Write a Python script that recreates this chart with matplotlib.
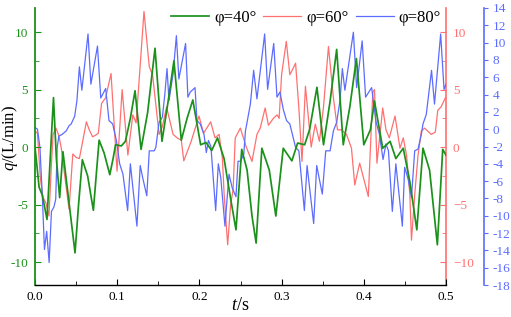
import matplotlib
matplotlib.use("Agg")
import matplotlib.pyplot as plt
from matplotlib.ticker import MultipleLocator, FuncFormatter

plt.rcParams['font.family'] = ['Liberation Serif', 'DejaVu Serif']
plt.rcParams['mathtext.fontset'] = 'custom'
plt.rcParams['mathtext.rm'] = 'Liberation Serif'
plt.rcParams['mathtext.it'] = 'Liberation Serif:italic'
plt.rcParams['axes.unicode_minus'] = False

# (t [s], q [L/min])
phi40 = [(0.000, 0.0), (0.005, -3.5), (0.009, -4.2), (0.0146, -6.3), (0.0185, -1.0),
         (0.0225, 4.3), (0.026, -1.0), (0.030, -4.4), (0.034, -0.4), (0.040, -4.0),
         (0.0487, -9.2), (0.053, -5.0), (0.0576, -1.1), (0.064, -2.5), (0.071, -5.5),
         (0.075, -2.0), (0.078, 0.6), (0.084, -0.5), (0.091, -2.4), (0.095, -1.0),
         (0.098, 0.2), (0.105, 0.1), (0.110, 0.5), (0.116, 2.5), (0.1217, 4.9),
         (0.129, -0.2), (0.137, 3.0), (0.146, 8.6), (0.1545, 0.5), (0.162, 4.0),
         (0.169, 7.5), (0.178, 0.6), (0.185, 2.5), (0.192, 4.1), (0.2015, 0.2),
         (0.208, 0.4), (0.215, -0.3), (0.222, 0.8), (0.230, -1.0), (0.238, -4.5),
         (0.2445, -7.2), (0.2515, -0.2), (0.258, -2.0), (0.264, -6.0), (0.269, -8.35),
         (0.276, -0.1), (0.285, -2.0), (0.293, -6.0), (0.302, -0.1), (0.3125, -1.2),
         (0.3195, 0.35), (0.328, 0.2), (0.334, 1.5), (0.343, 5.2), (0.351, 0.2),
         (0.359, 4.0), (0.367, 8.5), (0.375, 0.2), (0.383, 3.5), (0.391, 7.7),
         (0.400, 0.2), (0.408, 1.5), (0.413, 4.0), (0.423, -0.1), (0.432, 0.5),
         (0.439, -1.0), (0.448, -0.1), (0.456, -3.0), (0.4645, -7.2), (0.472, -0.1),
         (0.480, -2.0), (0.4895, -8.5), (0.496, -0.2), (0.500, -0.7)]

phi60 = [(0.000, 1.4), (0.003, 1.2), (0.0065, -2.7), (0.0097, -4.4), (0.013, -4.8),
         (0.017, -6.0), (0.020, -1.5), (0.022, 1.1), (0.0255, 1.65), (0.029, 1.0),
         (0.032, -0.1), (0.036, -2.4), (0.0414, -5.4), (0.046, -0.6), (0.050, -0.9),
         (0.054, -1.0), (0.058, 0.5), (0.0625, 2.2), (0.066, 1.5), (0.070, 0.9),
         (0.073, 1.0), (0.077, 1.2), (0.081, 3.8), (0.086, 4.3), (0.0925, 6.4),
         (0.0998, -2.1), (0.106, 5.0), (0.113, -0.7), (0.119, 2.8), (0.123, 2.1),
         (0.1326, 11.8), (0.139, 7.0), (0.143, 6.3), (0.151, 1.1), (0.155, 1.8),
         (0.160, 3.5), (0.168, 1.1), (0.173, 0.8), (0.178, 0.6), (0.181, -1.2),
         (0.190, 0.5), (0.1995, 2.7), (0.205, 1.2), (0.2137, 2.2), (0.219, 0.8),
         (0.224, 1.1), (0.228, -1.0), (0.230, -4.0), (0.2344, -8.5), (0.238, -5.0),
         (0.241, -3.7), (0.2436, 0.8), (0.2498, 1.65), (0.257, 0.0), (0.264, -1.25),
         (0.270, 1.1), (0.274, 1.65), (0.280, 3.4), (0.284, 1.9), (0.290, 2.5),
         (0.2945, 2.8), (0.297, 2.5), (0.300, 6.3), (0.3057, 9.2), (0.310, 6.3),
         (0.313, 6.7), (0.317, 7.3), (0.321, 3.4), (0.3248, -1.25), (0.329, 5.3),
         (0.336, 0.0), (0.341, 2.0), (0.346, 0.5), (0.351, 3.5), (0.357, 8.75),
         (0.363, 4.3), (0.368, 1.5), (0.373, 1.5), (0.379, 1.1), (0.385, -0.1),
         (0.389, -3.3), (0.395, -1.4), (0.4055, -4.3), (0.411, 4.8), (0.413, 5.0),
         (0.416, -1.4), (0.423, 3.4), (0.427, 1.5), (0.431, 0.8), (0.438, 2.7),
         (0.444, -0.1), (0.448, 0.8), (0.452, -0.7), (0.456, -4.1), (0.458, -8.1),
         (0.462, -4.1), (0.466, -0.7), (0.470, 1.4), (0.474, 1.65), (0.482, 1.1),
         (0.487, 1.3), (0.490, 3.2), (0.494, 3.5), (0.500, 4.4)]

phi80 = [(0.000, 0.2), (0.003, 0.0), (0.006, -2.1), (0.009, -7.9), (0.0115, -13.9),
         (0.0142, -11.8), (0.0172, -15.4), (0.020, -9.5), (0.023, -9.0), (0.0252, -8.1),
         (0.027, -2.1), (0.029, -0.8), (0.033, -0.6), (0.038, -0.2), (0.0414, 0.4),
         (0.044, 0.6), (0.0483, 1.5), (0.051, 3.3), (0.054, 7.2), (0.057, 4.5),
         (0.0645, 11.0), (0.068, 5.2), (0.076, 9.6), (0.080, 3.6), (0.086, 4.7),
         (0.090, 1.0), (0.0945, 0.6), (0.099, -1.3), (0.103, -4.0), (0.107, -5.2),
         (0.1127, -9.4), (0.116, -4.0), (0.124, -11.2), (0.128, -4.2), (0.131, -5.6),
         (0.136, -7.7), (0.139, -2.5), (0.145, -2.5), (0.147, -2.1), (0.149, -0.6),
         (0.151, 0.8), (0.155, 1.4), (0.158, 4.1), (0.1606, 7.0), (0.163, 3.3),
         (0.168, 6.4), (0.172, 10.8), (0.175, 5.8), (0.1832, 9.9), (0.186, 3.7),
         (0.189, 4.3), (0.1947, 4.8), (0.197, 1.0), (0.201, 0.6), (0.2056, -0.6),
         (0.2084, -2.7), (0.211, -1.3), (0.214, -2.0), (0.2198, -9.4), (0.223, -4.0),
         (0.226, -5.6), (0.2311, -11.2), (0.236, -5.2), (0.240, -6.8), (0.2445, -7.8),
         (0.247, -3.7), (0.250, -3.7), (0.254, -2.9), (0.256, -0.2), (0.258, 0.8),
         (0.262, 2.9), (0.266, 6.8), (0.270, 3.5), (0.2794, 11.0), (0.283, 4.6),
         (0.2904, 9.9), (0.2944, 3.7), (0.298, 4.3), (0.302, 2.3), (0.306, 1.0),
         (0.310, 0.6), (0.317, -2.1), (0.321, -2.5), (0.3277, -9.4), (0.331, -4.2),
         (0.339, -10.9), (0.3427, -4.2), (0.3495, -7.5), (0.3537, -2.5), (0.359, -2.5),
         (0.363, -0.2), (0.367, 0.8), (0.371, 3.3), (0.3739, 7.0), (0.377, 4.5),
         (0.3873, 11.2), (0.3913, 4.8), (0.398, 10.2), (0.4022, 3.7), (0.4095, 4.8),
         (0.415, 0.8), (0.419, -0.6), (0.4234, -3.5), (0.427, -1.7), (0.430, -2.5),
         (0.4347, -9.5), (0.439, -4.0), (0.4469, -11.2), (0.4497, -4.4), (0.454, -5.8),
         (0.458, -7.9), (0.4619, -2.5), (0.466, -2.3), (0.470, -0.6), (0.472, 0.6),
         (0.476, 1.7), (0.479, 4.1), (0.4824, 6.8), (0.486, 2.9), (0.4935, 11.0),
         (0.4976, 4.6), (0.500, 5.2)]

labels = ["φ=40°", "φ=60°", "φ=80°"]

GREEN = "#1b911b"
RED = "#ff7070"
BLUE = "#5c6cff"


def split(pairs):
    return [p[0] for p in pairs], [p[1] for p in pairs]


fig = plt.figure(figsize=(5.11, 3.17), dpi=100)
ax = fig.add_axes([35 / 511, 32 / 317, 411 / 511, 277 / 317])
ax2 = ax.twinx()
ax3 = ax.twinx()

# green on top of the twins
ax.set_zorder(3)
ax.patch.set_visible(False)
ax3.set_zorder(2)
ax2.set_zorder(1)

t, q = split(phi40)
l1, = ax.plot(t, q, color=GREEN, lw=1.25, label=labels[0])
t, q = split(phi60)
l2, = ax2.plot(t, q, color=RED, lw=0.9, label=labels[1])
t, q = split(phi80)
l3, = ax3.plot(t, q, color=BLUE, lw=0.9, label=labels[2])

ax.set_xlim(0, 0.5)
ax.set_ylim(-12, 12.1)
ax2.set_ylim(-12, 12.1)
ax3.set_ylim(-18, 14)

ax.xaxis.set_major_locator(MultipleLocator(0.1))
ax.xaxis.set_minor_locator(MultipleLocator(0.05))
ax.yaxis.set_major_locator(MultipleLocator(5))
ax.yaxis.set_minor_locator(MultipleLocator(2.5))
ax2.yaxis.set_major_locator(MultipleLocator(5))
ax2.yaxis.set_minor_locator(MultipleLocator(2.5))
ax3.yaxis.set_major_locator(MultipleLocator(2))
ax.xaxis.set_major_formatter(plt.FormatStrFormatter('%.1f'))
# the red axis uses a long dash for negatives
ax2.yaxis.set_major_formatter(FuncFormatter(
    lambda v, p: ("\u2212%g" % -v) if v < 0 else "%g" % v))

# spines
ax.spines['top'].set_visible(False)
ax.spines['right'].set_visible(False)
ax.spines['left'].set_color(GREEN)
ax.spines['left'].set_linewidth(1.3)
ax.spines['bottom'].set_linewidth(1.0)
for a in (ax2, ax3):
    for s in ('top', 'left', 'bottom'):
        a.spines[s].set_visible(False)
ax2.spines['right'].set_color(RED)
ax2.spines['right'].set_linewidth(1.2)
ax3.spines['right'].set_position(('outward', 38 * 72 / 100))
ax3.spines['right'].set_color(BLUE)
ax3.spines['right'].set_linewidth(1.2)

ax.tick_params(axis='x', which='both', direction='in', labelsize=9.5, pad=4)
ax.tick_params(axis='x', which='major', length=4)
ax.tick_params(axis='x', which='minor', length=3)
ax.tick_params(axis='y', which='both', direction='in', colors=GREEN, labelsize=9.5, pad=5)
ax.tick_params(axis='y', which='major', length=4)
ax.tick_params(axis='y', which='minor', length=3)
ax2.tick_params(axis='y', which='both', direction='in', colors=RED, labelsize=9.5, pad=5)
ax2.tick_params(axis='y', which='major', length=4)
ax2.tick_params(axis='y', which='minor', length=3)
ax3.tick_params(axis='y', direction='out', colors=BLUE, labelsize=9.5, length=3, pad=3)

ax.set_xlabel("$t$/s", fontsize=13)
ax.xaxis.set_label_coords(0.5, -0.045)
ax.xaxis.label.set_va('top')
ax.set_ylabel("$q$/(L/min)", fontsize=12)
ax.yaxis.set_label_coords(-0.036, 0.53)

ax.legend([l1, l2, l3], labels, loc='center', ncol=3, frameon=False,
          bbox_to_anchor=(306 / 511, 1 - 18 / 317), bbox_transform=fig.transFigure,
          fontsize=12, handlelength=2.3, handletextpad=0.3, columnspacing=0.4)

fig.savefig("out.png", dpi=100)
